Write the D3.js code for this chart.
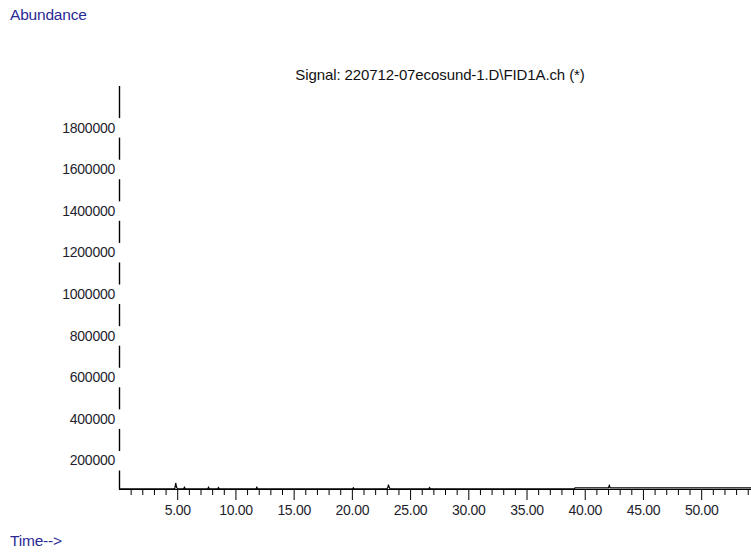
<!DOCTYPE html>
<html>
<head>
<meta charset="utf-8">
<script src="https://cdn.jsdelivr.net/npm/d3@7"></script>
<style>
  body { margin: 0; background: #fff; }
  svg { display: block; font-family: "Liberation Sans", Arial, sans-serif; }
  .tick text { fill: #1e1e2e; }
</style>
</head>
<body>
<div id="chart"></div>
<script>
// Signal trace: time (min) and abundance
const traceTime = [0, 4.70, 4.80, 4.87, 4.95, 5.05, 5.55, 5.62, 5.70, 7.62, 7.69, 7.76, 8.47, 8.54, 8.61,
    11.77, 11.84, 11.91, 20.06, 20.13, 20.20, 23.02, 23.10, 23.14, 23.20, 23.28, 26.60, 26.67, 26.74,
    39.10, 39.17, 42.04, 42.11, 42.18, 54.28];
const traceValue = [63500, 63500, 66000, 92000, 70000, 63500, 63500, 71000, 63500, 63500, 71000, 63500, 63500, 70000, 63500,
    63500, 71000, 63500, 63500, 69000, 63500, 63500, 72000, 84000, 72000, 63500, 63500, 70000, 63500,
    63500, 68800, 68800, 80000, 68800, 68800];

const yTicks = [200000, 400000, 600000, 800000, 1000000, 1200000, 1400000, 1600000, 1800000];
const xMajor = [5, 10, 15, 20, 25, 30, 35, 40, 45, 50];
const xMinor = d3.range(1, 55).filter(d => d % 5 !== 0);

const title = "Signal: 220712-07ecosund-1.D\\FID1A.ch (*)";

const width = 751;
const height = 553;
const margin = {top: 86, right: 0, bottom: 64, left: 119};

const svg = d3.select("#chart")
    .append("svg")
    .attr("width", width)
    .attr("height", height);

const x = d3.scaleLinear()
    .domain([0, 54.28])
    .range([margin.left, width - margin.right]);

const y = d3.scaleLinear()
    .domain([63000, 2000000])
    .range([height - margin.bottom, margin.top]);

const base = height - margin.bottom;

// x axis: minor ticks, then major ticks with labels
svg.append("g")
    .attr("transform", `translate(0,${base})`)
    .call(d3.axisBottom(x).tickValues(xMinor).tickSize(6).tickSizeOuter(0).tickFormat(""))
    .call(g => g.select(".domain").remove());

svg.append("g")
    .attr("transform", `translate(0,${base})`)
    .call(d3.axisBottom(x).tickValues(xMajor).tickSize(11).tickSizeOuter(0).tickPadding(5)
        .tickFormat(d3.format(".2f")))
    .call(g => g.select(".domain").remove())
    .call(g => g.selectAll("text").attr("font-size", 14).attr("letter-spacing", -0.3).attr("font-family", null));

svg.append("line")
    .attr("x1", x(0)).attr("x2", width)
    .attr("y1", base + 0.5).attr("y2", base + 0.5)
    .attr("stroke", "#000");

// y axis: labels sit on the line, which is broken around them
svg.append("g")
    .attr("transform", `translate(${margin.left - 4},0)`)
    .call(d3.axisLeft(y).tickValues(yTicks).tickSize(0).tickPadding(0).tickFormat(d3.format("d")))
    .call(g => g.select(".domain").remove())
    .call(g => g.selectAll("text").attr("font-size", 14).attr("letter-spacing", -0.25).attr("font-family", null));

const gap = 10;
const stops = [margin.top].concat(yTicks.slice().reverse().flatMap(v => [y(v) - gap, y(v) + gap])).concat([base]);
const segs = d3.range(0, stops.length, 2).map(i => [stops[i], stops[i + 1]]);
svg.append("g")
    .selectAll("line")
    .data(segs)
    .enter().append("line")
    .attr("x1", margin.left + 0.5).attr("x2", margin.left + 0.5)
    .attr("y1", d => d[0]).attr("y2", d => d[1] + 0.5)
    .attr("stroke", "#000")
    .attr("stroke-width", 1.4);

// signal trace
const line = d3.line()
    .x((d, i) => x(traceTime[i]))
    .y(d => y(d));

svg.append("path")
    .datum(traceValue)
    .attr("d", line)
    .attr("fill", "none")
    .attr("stroke", "#000")
    .attr("stroke-width", 1.2);

// texts
svg.append("text")
    .attr("x", 440).attr("y", 80)
    .attr("text-anchor", "middle")
    .attr("font-size", 15)
    .attr("letter-spacing", -0.1)
    .attr("fill", "#111")
    .text(title);

svg.append("text")
    .attr("x", 10).attr("y", 20)
    .attr("font-size", 15.5)
    .attr("letter-spacing", -0.2)
    .attr("fill", "#2a2a96")
    .text("Abundance");

svg.append("text")
    .attr("x", 10).attr("y", 546)
    .attr("font-size", 15.5)
    .attr("letter-spacing", -0.2)
    .attr("fill", "#2a2a96")
    .text("Time-->");
</script>
</body>
</html>
